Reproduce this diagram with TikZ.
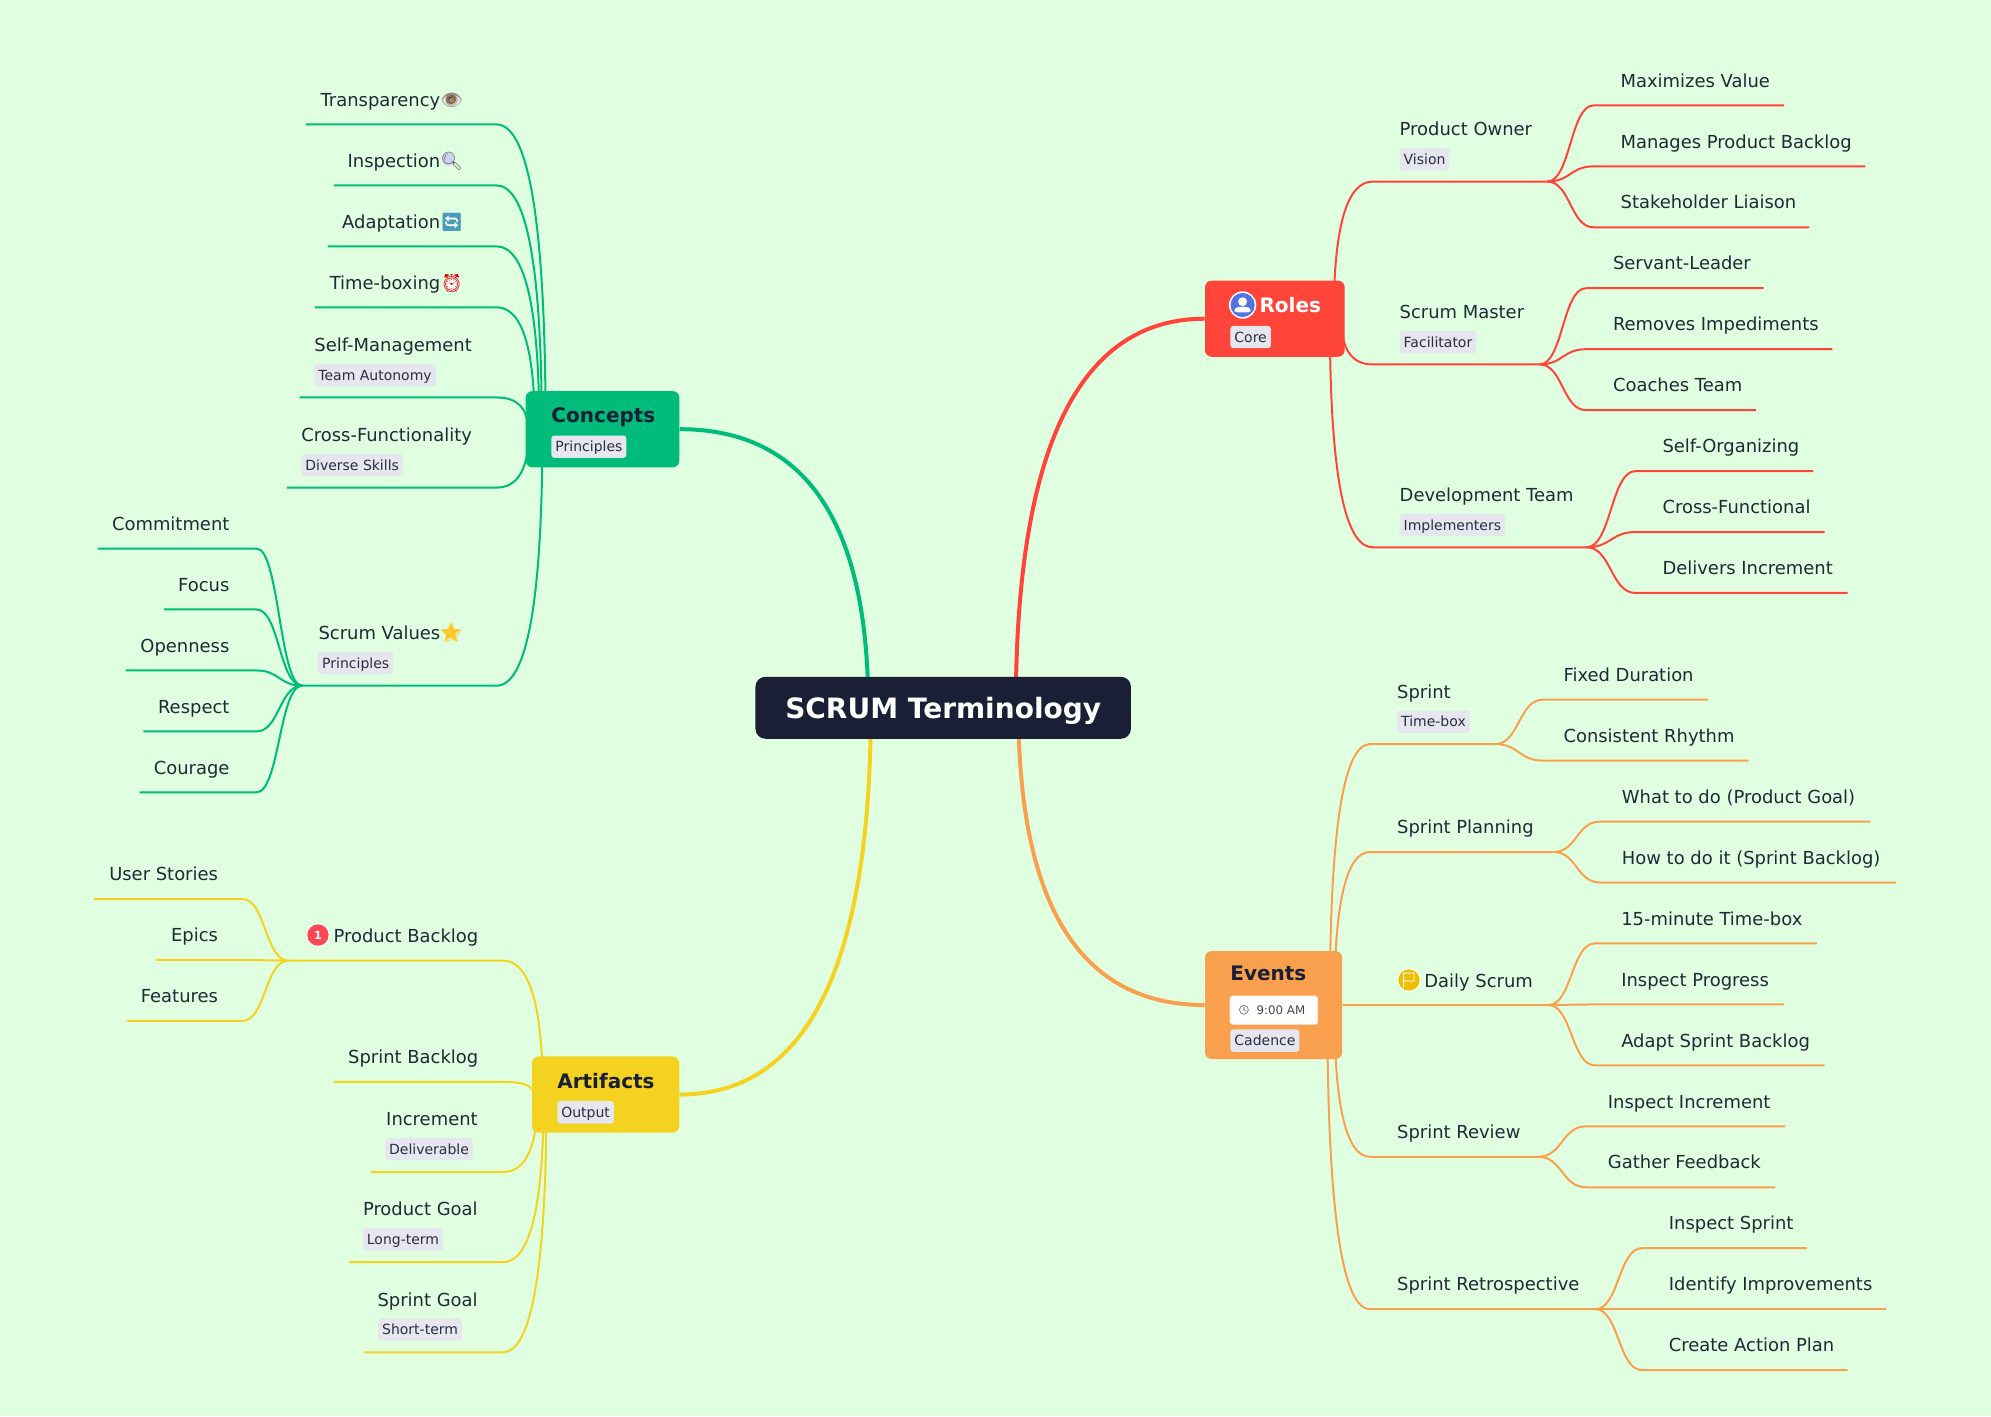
\documentclass[tikz,border=0pt]{standalone}
\usepackage{fontspec}
\setmainfont{DejaVu Sans}
\newfontfamily\emojifont{Noto Emoji}
\usetikzlibrary{calc,shapes.geometric}
\pgfdeclarelayer{bg}
\pgfsetlayers{bg,main}
\definecolor{pagebg}{HTML}{E0FFE0}
\definecolor{cred}{HTML}{FF4539}
\definecolor{cgreen}{HTML}{00BC7B}
\definecolor{cyellow}{HTML}{F4D320}
\definecolor{corange}{HTML}{F9A04E}
\definecolor{cdark}{HTML}{1A1F36}
\definecolor{ctext}{HTML}{1F2937}
\definecolor{ctag}{HTML}{E5E6EE}
\definecolor{ctagtext}{HTML}{2B2D42}
\definecolor{cblueicon}{HTML}{5273E0}
\definecolor{cflag}{HTML}{EDBE00}
\definecolor{cone}{HTML}{FF4655}
\definecolor{cstar}{HTML}{FFC72C}
\tikzset{
  rootln/.style={line width=2pt},
  subln/.style={line width=1pt},
  lbl/.style={inner sep=0pt,text=ctext,font=\fontsize{8.97pt}{10pt}\selectfont,text height=7.6pt,text depth=.5pt},
  tagbox/.style={anchor=west,fill=ctag,rounded corners=1.5pt,text=ctagtext,font=\fontsize{7pt}{9pt}\selectfont,inner xsep=2pt,inner ysep=2pt,text height=6.2pt,text depth=1pt},
  mainbox/.style={rounded corners=3.3pt,inner sep=0pt},
  maintitle/.style={anchor=west,inner sep=0pt,text=cdark,font=\fontsize{10pt}{12pt}\selectfont\bfseries,text height=7.6pt,text depth=.4pt},
}
\newcommand\qcurve[3]{.. controls ($(#1)!.6667!(#2)$) and ($(#3)!.6667!(#2)$) .. (#3)}
\newcommand\branch[7]{% colour, parent anchor, inset, name, bend x, line y, end x
  \coordinate (#4b) at (#5,#6);
  \coordinate (#4e) at (#7,#6);
  \coordinate (#4s) at ($(#2)+(#3,0)$);
  \coordinate (#4c) at (#4s |- #4b);
  \begin{pgfonlayer}{bg}
  \draw[#1,subln] (#4s) \qcurve{#4s}{#4c}{#4b} -- (#4e);
  \end{pgfonlayer}}
\newcommand\leaf[9]{% colour, fork, name, bend x, line y, end x, anchor, text x, text
  \coordinate (#3b) at (#4,#5);
  \coordinate (#3e) at (#6,#5);
  \coordinate (#3m) at ($(#2)!.5!(#3b)$);
  \node[lbl,anchor=#7] (#3) at (#8,#5-20) {#9};
  \begin{pgfonlayer}{bg}
  \draw[#1,subln] (#2) .. controls (#3m |- #2) and (#3m |- #3b) .. (#3b) -- (#3e);
  \end{pgfonlayer}}
\newcommand\emo[2]{{\emojifont\textcolor{#1}{#2}}}
\begin{document}
\begin{tikzpicture}[x=0.6349pt,y=-0.6349pt]
\begin{pgfonlayer}{bg}
\fill[pagebg] (0,0) rectangle (1568,1115.2);
\end{pgfonlayer}
\useasboundingbox (0,0) rectangle (1568,1115.2);

% root
\node[fill=cdark,rounded corners=5pt,inner sep=0pt,minimum width=295.7*0.6349pt,minimum height=48.8*0.6349pt,text=white,font=\fontsize{14pt}{16pt}\selectfont\bfseries,text height=11pt,text depth=.5pt] (root) at (742.8,557.4) {SCRUM Terminology};

% main boxes
\node[mainbox,fill=cgreen,minimum width=121*0.6349pt,minimum height=60*0.6349pt] (concepts) at (474.5,338) {};
\node[maintitle] (conceptsT) at (434,327.4) {Concepts};
\node[tagbox] (conceptsG) at (434,351.8) {Principles};

\node[mainbox,fill=cred,minimum width=110*0.6349pt,minimum height=60*0.6349pt] (roles) at (1004,251) {};
\fill[white] (978.6,240.2) circle (10.8);
\fill[cblueicon] (978.6,240.2) circle (9.5);
\fill[white] (978.6,237.6) circle (3.5);
\fill[white,rounded corners=1.5pt] (972.2,246) -- (972.2,243.6) -- (974.5,241.6) -- (982.7,241.6) -- (985,243.6) -- (985,246) -- cycle;
\node[maintitle,text=white] (rolesT) at (991.6,240.4) {Roles};
\node[tagbox] (rolesG) at (968.7,265.4) {Core};

\node[mainbox,fill=corange,minimum width=108*0.6349pt,minimum height=85*0.6349pt] (events) at (1003,791.5) {};
\node[maintitle] (eventsT) at (968.7,766.4) {Events};
\node[fill=white,draw=white!80!corange,line width=.4pt,rounded corners=1.5pt,inner sep=0pt,minimum width=69*0.6349pt,minimum height=22.3*0.6349pt] (timebox) at (1003.2,795.5) {};
\node[anchor=west,inner sep=0pt,text=black!72,font=\fontsize{5.9pt}{7pt}\selectfont] (timeT) at (989.4,795.5) {9:00 AM};
\draw[black!50,line width=.4pt] (979.6,795.2) circle (3.5) (979.6,793) -- (979.6,795.2) -- (981.2,796.4);
\node[tagbox] (eventsG) at (968.7,819.5) {Cadence};

\node[mainbox,fill=cyellow,minimum width=116*0.6349pt,minimum height=60*0.6349pt] (artifacts) at (477,862) {};
\node[maintitle] (artifactsT) at (438.6,851.4) {Artifacts};
\node[tagbox] (artifactsG) at (438.6,876) {Output};

% root connectors
\coordinate (rc) at ($(root.center)+(-59,0)$);
\coordinate (rcc) at (rc |- concepts.east);
\coordinate (rr) at ($(root.center)+(57.2,0)$);
\coordinate (rrc) at (rr |- roles.west);
\coordinate (ra) at ($(root.center)+(-57,0)$);
\coordinate (rac) at (ra |- artifacts.east);
\coordinate (re) at ($(root.center)+(59.2,0)$);
\coordinate (rec) at (re |- events.west);
\begin{pgfonlayer}{bg}
\draw[cgreen,rootln] (rc) \qcurve{rc}{rcc}{concepts.east};
\draw[cred,rootln] (rr) \qcurve{rr}{rrc}{roles.west};
\draw[cyellow,rootln] (ra) \qcurve{ra}{rac}{artifacts.east};
\draw[corange,rootln] (re) \qcurve{re}{rec}{events.west};
\end{pgfonlayer}

% ---------- Roles
\branch{cred}{roles.east}{-9}{po}{1081}{143}{1218.5}
\node[lbl,anchor=west] (poT) at (1102,101) {Product Owner};
\node[tagbox] (poG) at (1102,125.4) {Vision};
\leaf{cred}{poe}{poA}{1255}{83}{1405}{west}{1276}{Maximizes Value}
\leaf{cred}{poe}{poB}{1255}{131}{1469}{west}{1276}{Manages Product Backlog}
\leaf{cred}{poe}{poC}{1255}{179}{1425}{west}{1276}{Stakeholder Liaison}

\branch{cred}{roles.east}{-3}{sm}{1081}{287}{1212.5}
\node[lbl,anchor=west] (smT) at (1102,245) {Scrum Master};
\node[tagbox] (smG) at (1102,269.4) {Facilitator};
\leaf{cred}{sme}{smA}{1249}{227}{1389}{west}{1270}{Servant-Leader}
\leaf{cred}{sme}{smB}{1249}{275}{1443}{west}{1270}{Removes Impediments}
\leaf{cred}{sme}{smC}{1249}{323}{1383}{west}{1270}{Coaches Team}

\branch{cred}{roles.east}{-12}{dt}{1081}{431}{1249.5}
\node[lbl,anchor=west] (dtT) at (1102,389) {Development Team};
\node[tagbox] (dtG) at (1102,413.4) {Implementers};
\leaf{cred}{dte}{dtA}{1288}{371}{1428}{west}{1309}{Self-Organizing}
\leaf{cred}{dte}{dtB}{1288}{419}{1437}{west}{1309}{Cross-Functional}
\leaf{cred}{dte}{dtC}{1288}{467}{1455}{west}{1309}{Delivers Increment}

% ---------- Events
\branch{corange}{events.east}{-10}{sp}{1079}{586}{1177.5}
\node[lbl,anchor=west] (spT) at (1100,544.4) {Sprint};
\node[tagbox] (spG) at (1100,568.4) {Time-box};
\leaf{corange}{spe}{spA}{1215}{551}{1345}{west}{1231}{Fixed Duration}
\leaf{corange}{spe}{spB}{1215}{599}{1377}{west}{1231}{Consistent Rhythm}

\branch{corange}{events.east}{-6.5}{pl}{1079}{671}{1223.5}
\node[lbl,anchor=west] (plT) at (1100,651) {Sprint Planning};
\leaf{corange}{ple}{plA}{1260}{647}{1473}{west}{1277}{What to do (Product Goal)}
\leaf{corange}{ple}{plB}{1260}{695}{1493}{west}{1277}{How to do it (Sprint Backlog)}

\branch{corange}{events.east}{0}{ds}{1079}{791.5}{1219.5}
\node[circle,fill=white,inner sep=0pt,minimum size=18.4*0.6349pt] (dsI) at (1109.6,771.8) {};
\fill[cflag] (1109.6,771.8) circle (8.4);
\draw[white,line width=.45pt,line join=round] (1105.4,777.6) -- (1105.4,766.4) .. controls (1108,765.2) and (1110,767.4) .. (1113.6,766.2) -- (1113.6,772.4) .. controls (1110,773.6) and (1108,771.4) .. (1105.4,772.6);
\node[lbl,anchor=west] (dsT) at (1121.4,772) {Daily Scrum};
\leaf{corange}{dse}{dsA}{1256}{743}{1431}{west}{1276.5}{15-minute Time-box}
\leaf{corange}{dse}{dsB}{1256}{791}{1405}{west}{1276.5}{Inspect Progress}
\leaf{corange}{dse}{dsC}{1256}{839}{1437}{west}{1276.5}{Adapt Sprint Backlog}

\branch{corange}{events.east}{-6.5}{sr}{1079}{911}{1211.5}
\node[lbl,anchor=west] (srT) at (1100,891.4) {Sprint Review};
\leaf{corange}{sre}{srA}{1249}{887}{1406}{west}{1266}{Inspect Increment}
\leaf{corange}{sre}{srB}{1249}{935}{1398}{west}{1266}{Gather Feedback}

\branch{corange}{events.east}{-12}{rt}{1079}{1031}{1256.5}
\node[lbl,anchor=west] (rtT) at (1100,1011) {Sprint Retrospective};
\leaf{corange}{rte}{rtA}{1293}{983}{1423}{west}{1314}{Inspect Sprint}
\leaf{corange}{rte}{rtB}{1293}{1031}{1485}{west}{1314}{Identify Improvements}
\leaf{corange}{rte}{rtC}{1293}{1079}{1455}{west}{1314}{Create Action Plan}

% ---------- Concepts
\branch{cgreen}{concepts.west}{16}{tr}{391}{98}{241}
\fill[black!10] (347.5,78) .. controls (352,71.5) and (358.5,71.5) .. (363,78) .. controls (358.5,84.5) and (352,84.5) .. cycle;
\fill[brown!80!black] (355.2,78) circle (4.3);
\fill[black!85] (355.2,78) circle (1.8);
\node[lbl,anchor=east] (trT) at (365,78) {Transparency\emo{black!45}{^^^^^^01f441}};
\branch{cgreen}{concepts.west}{13}{in}{391}{146}{263}
\fill[cyan!25!blue!18!white] (353,125.5) circle (5);
\node[lbl,anchor=east] (inT) at (365,126) {Inspection\emo{black!60}{^^^^^^01f50d}};
\branch{cgreen}{concepts.west}{11}{ad}{391}{194}{258}
\fill[white] (349,169) rectangle (362,181);
\node[lbl,anchor=east] (adT) at (365,174) {Adaptation\emo{blue!25!cyan!45!gray}{^^^^^^01f504}};
\branch{cgreen}{concepts.west}{7.5}{tb}{391}{242}{248}
\fill[white] (355.5,223.5) circle (5.2);
\node[lbl,anchor=east] (tbT) at (365,222.4) {Time-boxing\emo{red!85!black}{^^^^23f0}};
\branch{cgreen}{concepts.west}{2}{se}{391}{313}{236}
\node[lbl,anchor=west] (seT) at (247.3,271) {Self-Management};
\node[tagbox] (seG) at (247.3,295.4) {Team Autonomy};
\branch{cgreen}{concepts.west}{3}{cf}{391}{384}{226}
\node[lbl,anchor=west] (cfT) at (237,342) {Cross-Functionality};
\node[tagbox] (cfG) at (237,366.4) {Diverse Skills};
\branch{cgreen}{concepts.west}{13.5}{sv}{391}{540}{238}
\node[star,star points=5,star point ratio=2.3,fill=cstar,inner sep=0pt,minimum size=16.5*0.6349pt] (svS) at (355,498.3) {};
\node[lbl,anchor=east] (svT) at (365,498) {Scrum Values\emo{cstar}{^^^^2b50}};
\node[tagbox] (svG) at (250.3,522) {Principles};
\leaf{cgreen}{sve}{svA}{202}{432}{77}{east}{181}{Commitment}
\leaf{cgreen}{sve}{svB}{202}{480}{129}{east}{181}{Focus}
\leaf{cgreen}{sve}{svC}{202}{528}{99}{east}{181}{Openness}
\leaf{cgreen}{sve}{svD}{202}{576}{113}{east}{181}{Respect}
\leaf{cgreen}{sve}{svE}{202}{624}{110}{east}{181}{Courage}

% ---------- Artifacts
\branch{cyellow}{artifacts.west}{8.8}{pb}{396}{756.5}{227}
\node[circle,fill=white,inner sep=0pt,minimum size=18.4*0.6349pt] (pbR) at (250.4,736.4) {};
\node[circle,fill=cone,inner sep=0pt,minimum size=16.8*0.6349pt,text=white,font=\fontsize{5.6pt}{6pt}\selectfont\bfseries] (pbI) at (250.4,736.4) {1};
\node[lbl,anchor=east] (pbT) at (377,737) {Product Backlog};
\leaf{cyellow}{pbe}{pbA}{191}{708}{74}{east}{172}{User Stories}
\leaf{cyellow}{pbe}{pbB}{191}{756}{123}{east}{172}{Epics}
\leaf{cyellow}{pbe}{pbC}{191}{804}{100}{east}{172}{Features}
\branch{cyellow}{artifacts.west}{2}{sb}{396}{852}{263}
\node[lbl,anchor=east] (sbT) at (377,832) {Sprint Backlog};
\branch{cyellow}{artifacts.west}{4.8}{ic}{396}{923}{292}
\node[lbl,anchor=east] (icT) at (376.5,881) {Increment};
\node[tagbox] (icG) at (303,905) {Deliverable};
\branch{cyellow}{artifacts.west}{9.5}{pg}{396}{994}{275}
\node[lbl,anchor=east] (pgT) at (376.5,952) {Product Goal};
\node[tagbox] (pgG) at (285.5,976) {Long-term};
\branch{cyellow}{artifacts.west}{11.7}{sg}{396}{1065}{287}
\node[lbl,anchor=east] (sgT) at (376.5,1023) {Sprint Goal};
\node[tagbox] (sgG) at (297.5,1047) {Short-term};
\end{tikzpicture}
\end{document}
